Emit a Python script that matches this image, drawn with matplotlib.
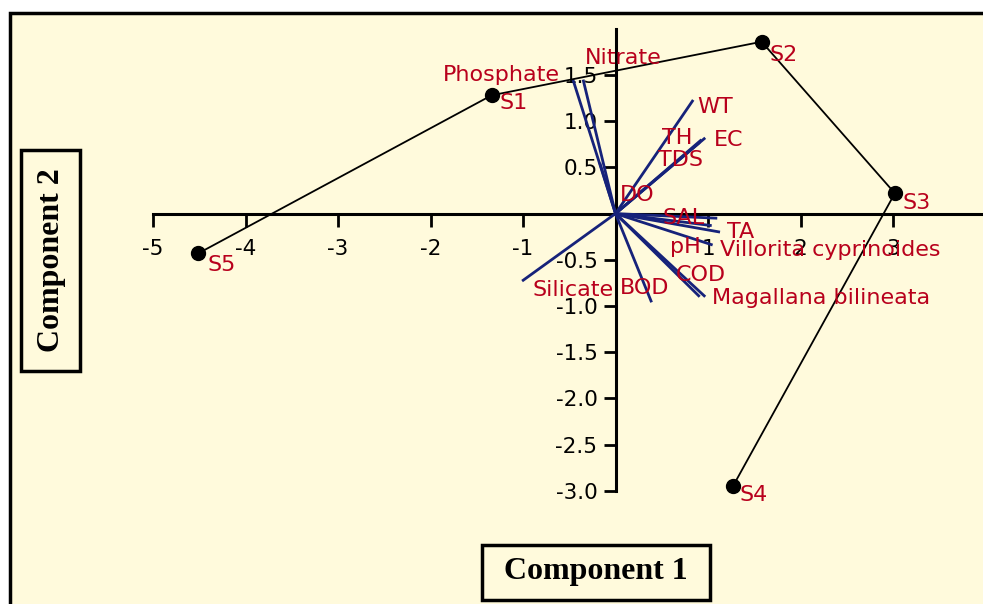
import matplotlib.pyplot as plt
from matplotlib.patches import Rectangle

# loading vectors (Component 1, Component 2)
variables = ["Phosphate", "Nitrate", "DO", "WT", "EC", "TH", "TDS", "SAL", "TA",
             "pH", "Villorita cyprinoides", "COD", "Magallana bilineata", "BOD", "Silicate"]
load_pc1 = [-0.46, -0.35, -0.17, 0.84, 0.97, 0.93, 0.91, 1.10, 1.13,
            1.05, 1.04, 0.91, 0.97, 0.39, -1.01]
load_pc2 = [1.45, 1.45, 0.55, 1.23, 0.82, 0.80, 0.77, -0.05, -0.20,
            -0.34, -0.13, -0.90, -0.90, -0.96, -0.73]

# site scores, joined in this order
sites = ["S5", "S1", "S2", "S3", "S4"]
score_pc1 = [-4.51, -1.34, 1.58, 3.02, 1.27]
score_pc2 = [-0.43, 1.28, 1.86, 0.22, -2.95]

xticks = [-5, -4, -3, -2, -1, 1, 2, 3]
yticks = [1.5, 1.0, 0.5, -0.5, -1.0, -1.5, -2.0, -2.5, -3.0]

# label placement, offset in pixels from the end of each vector / point
var_offsets = {
    "Phosphate": (-13, 5, "right"), "Nitrate": (2, 22, "left"), "DO": (20, -32, "left"),
    "WT": (4, -7, "left"), "EC": (9, -2, "left"), "TH": (-40, 2, "left"),
    "TDS": (-42, -18, "left"), "SAL": (-55, 0, "left"), "TA": (7, 0, "left"),
    "pH": (-43, -2, "left"), "Villorita cyprinoides": (8, -24, "left"),
    "COD": (-24, 22, "left"), "Magallana bilineata": (7, -1, "left"),
    "BOD": (-32, 14, "left"), "Silicate": (10, -9, "left"),
}
site_offsets = {"S1": (8, -8), "S2": (8, -13), "S3": (8, -10), "S4": (7, -9), "S5": (9, -12)}

W, H = 983, 604
red = "#b8001c"
navy = "#16227a"

fig = plt.figure(figsize=(W / 100, H / 100), dpi=100)
fig.patch.set_facecolor("white")
fig.add_artist(Rectangle((10 / W, -0.05), 1.0, 1.05 - 12.5 / H, transform=fig.transFigure,
                         facecolor="#fffadc", edgecolor="black", lw=2.5, zorder=0))

ax = fig.add_axes([0, 0, 1, 1])
ax.set_facecolor("none")
x0, ux = 615.5, 92.5
y0, uy = 213.6, 92.4
ax.set_xlim(-x0 / ux, (W - x0) / ux)
ax.set_ylim(-(H - y0) / uy, y0 / uy)

for s in ["top", "right"]:
    ax.spines[s].set_visible(False)
ax.spines["left"].set_position(("data", 0))
ax.spines["bottom"].set_position(("data", 0))
ax.spines["left"].set_bounds(-3.0, 2.0)
ax.spines["bottom"].set_bounds(-5, (W - x0) / ux)
for s in ["left", "bottom"]:
    ax.spines[s].set_linewidth(2.2)

ax.set_xticks(xticks)
ax.set_xticklabels([str(t) for t in xticks])
ax.set_yticks(yticks)
ax.set_yticklabels([f"{t:.1f}" for t in yticks])
ax.tick_params(direction="out", length=9, width=2, labelsize=15.5)
ax.tick_params(axis="x", pad=9)
ax.tick_params(axis="y", pad=4)

# vectors
for name, vx, vy in zip(variables, load_pc1, load_pc2):
    ax.plot([0, vx], [0, vy], color=navy, lw=2, solid_capstyle="butt", zorder=3)
    dx, dy, ha = var_offsets[name]
    ax.annotate(name, (vx, vy), xytext=(dx, dy), textcoords="offset pixels",
                ha=ha, va="center", color=red, fontsize=16, zorder=5)

# sites
ax.plot(score_pc1, score_pc2, color="black", lw=1.3, zorder=4)
ax.plot(score_pc1, score_pc2, "o", color="black", ms=10, zorder=4)
for name, sx, sy in zip(sites, score_pc1, score_pc2):
    dx, dy = site_offsets[name]
    ax.annotate(name, (sx, sy), xytext=(dx, dy), textcoords="offset pixels",
                ha="left", va="center", color=red, fontsize=16, zorder=5)

# axis title boxes
serif = dict(family="Liberation Serif", weight="bold", fontsize=23)
fig.add_artist(Rectangle((482 / W, 1 - 600 / H), 228 / W, 55 / H, transform=fig.transFigure,
                         facecolor="none", edgecolor="black", lw=2.5))
fig.text(596 / W, 1 - 572 / H, "Component 1", ha="center", va="center", **serif)
fig.add_artist(Rectangle((21 / W, 1 - 371 / H), 59 / W, 221 / H, transform=fig.transFigure,
                         facecolor="none", edgecolor="black", lw=2.5))
fig.text(51 / W, 1 - 260 / H, "Component 2", ha="center", va="center", rotation=90, **serif)

fig.savefig("out.png", dpi=100)
